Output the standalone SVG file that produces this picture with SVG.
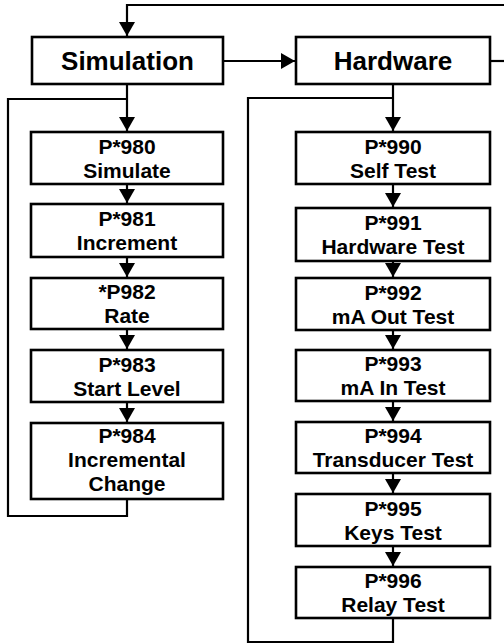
<svg xmlns="http://www.w3.org/2000/svg" width="504" height="644" viewBox="0 0 504 644">
<style>
.box{fill:#fff;stroke:#000;stroke-width:2.6}
.t{font-family:"Liberation Sans",Arial,sans-serif;font-weight:bold;font-size:21px;text-anchor:middle;fill:#000}
.h{font-family:"Liberation Sans",Arial,sans-serif;font-weight:bold;font-size:26px;text-anchor:middle;fill:#000}
.c{fill:none;stroke:#000;stroke-width:2.2}
</style>
<defs>
<marker id="ah" markerUnits="userSpaceOnUse" markerWidth="15" markerHeight="17" refX="14" refY="8" orient="auto">
<path d="M0,0 L14,8 L0,16 z" fill="#000"/>
</marker>
</defs>
<g id="connectors">
<path class="c" d="M506 5 H127 V36" marker-end="url(#ah)"/>
<path class="c" d="M223 61 H295" marker-end="url(#ah)"/>
<path class="c" d="M490 61 H506"/>
<path class="c" d="M127 84 V131" marker-end="url(#ah)"/>
<path class="c" d="M127 499 V516 H8 V99 H127"/>
<path class="c" d="M127 184 V203" marker-end="url(#ah)"/>
<path class="c" d="M127 257 V277" marker-end="url(#ah)"/>
<path class="c" d="M127 329 V349" marker-end="url(#ah)"/>
<path class="c" d="M127 402 V422" marker-end="url(#ah)"/>
<path class="c" d="M393 84 V131" marker-end="url(#ah)"/>
<path class="c" d="M393 618 V642 H248 V98 H393"/>
<path class="c" d="M393 184 V207" marker-end="url(#ah)"/>
<path class="c" d="M393 261 V277" marker-end="url(#ah)"/>
<path class="c" d="M393 330 V349" marker-end="url(#ah)"/>
<path class="c" d="M393 401 V421" marker-end="url(#ah)"/>
<path class="c" d="M393 473 V493" marker-end="url(#ah)"/>
<path class="c" d="M393 546 V566" marker-end="url(#ah)"/>
</g>
<g id="simulation"><rect class="box" x="32" y="37" width="191" height="47"/><text class="h" x="127.5" y="70">Simulation</text></g>
<g id="hardware"><rect class="box" x="296" y="37" width="194" height="47"/><text class="h" x="393" y="70">Hardware</text></g>
<g id="p980"><rect class="box" x="31" y="132" width="192" height="52"/><text class="t" x="127" y="153.5">P*980</text><text class="t" x="127" y="177.5">Simulate</text></g>
<g id="p981"><rect class="box" x="31" y="204" width="192" height="53"/><text class="t" x="127" y="226">P*981</text><text class="t" x="127" y="250">Increment</text></g>
<g id="p982"><rect class="box" x="31" y="278" width="192" height="51"/><text class="t" x="127" y="299">*P982</text><text class="t" x="127" y="323">Rate</text></g>
<g id="p983"><rect class="box" x="31" y="350" width="192" height="52"/><text class="t" x="127" y="371.5">P*983</text><text class="t" x="127" y="395.5">Start Level</text></g>
<g id="p984"><rect class="box" x="31" y="423" width="192" height="76"/><text class="t" x="127" y="443">P*984</text><text class="t" x="127" y="467">Incremental</text><text class="t" x="127" y="491">Change</text></g>
<g id="p990"><rect class="box" x="296" y="132" width="194" height="52"/><text class="t" x="393" y="153.5">P*990</text><text class="t" x="393" y="177.5">Self Test</text></g>
<g id="p991"><rect class="box" x="296" y="208" width="194" height="53"/><text class="t" x="393" y="230">P*991</text><text class="t" x="393" y="254">Hardware Test</text></g>
<g id="p992"><rect class="box" x="296" y="278" width="194" height="52"/><text class="t" x="393" y="299.5">P*992</text><text class="t" x="393" y="323.5">mA Out Test</text></g>
<g id="p993"><rect class="box" x="296" y="350" width="194" height="51"/><text class="t" x="393" y="371">P*993</text><text class="t" x="393" y="395">mA In Test</text></g>
<g id="p994"><rect class="box" x="296" y="422" width="194" height="51"/><text class="t" x="393" y="443">P*994</text><text class="t" x="393" y="467">Transducer Test</text></g>
<g id="p995"><rect class="box" x="296" y="494" width="194" height="52"/><text class="t" x="393" y="515.5">P*995</text><text class="t" x="393" y="539.5">Keys Test</text></g>
<g id="p996"><rect class="box" x="296" y="567" width="194" height="51"/><text class="t" x="393" y="588">P*996</text><text class="t" x="393" y="612">Relay Test</text></g>
</svg>
